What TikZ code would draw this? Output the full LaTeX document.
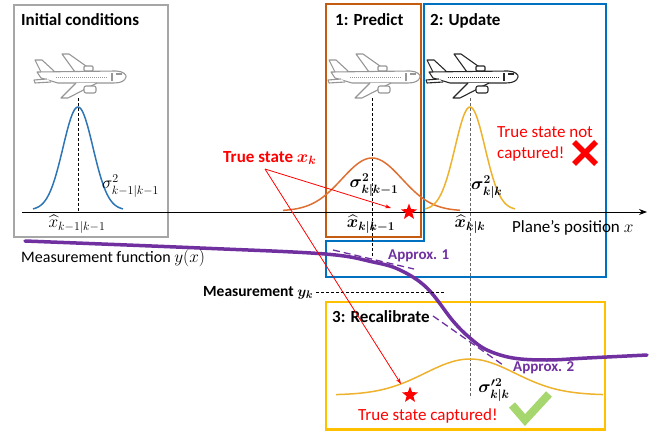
\documentclass[tikz,border=0pt]{standalone}
\usepackage{fontspec}
\setmainfont{Carlito}
\usepackage{amsmath,bm}
\usetikzlibrary{arrows.meta,shapes.geometric}
\definecolor{boxgray}{RGB}{166,166,166}
\definecolor{planegray}{RGB}{150,150,150}
\definecolor{planedark}{RGB}{40,40,40}
\definecolor{kblue}{RGB}{0,112,192}
\definecolor{cblue}{RGB}{46,117,182}
\definecolor{kbrown}{RGB}{197,90,17}
\definecolor{corange}{RGB}{222,112,50}
\definecolor{kyellow}{RGB}{255,192,0}
\definecolor{cyellow}{RGB}{238,178,45}
\definecolor{kpurple}{RGB}{112,48,160}
\definecolor{kgreen}{RGB}{165,215,110}
\definecolor{kred}{RGB}{255,0,0}
\tikzset{
  boxline/.style={line width=2.5pt},
  gcurve/.style={line width=1.5pt},
  title/.style={font=\fontsize{17}{20}\selectfont\bfseries, inner sep=0, anchor=base west},
  redtxt/.style={font=\fontsize{17}{20}\selectfont, text=kred, inner sep=0, anchor=base west},
  plaintxt/.style={font=\fontsize{16}{19}\selectfont, inner sep=0, anchor=base west},
  mathlbl/.style={font=\fontsize{17}{20}\selectfont, inner sep=0},
  purptxt/.style={font=\fontsize{15}{18}\selectfont\bfseries, text=kpurple, inner sep=0, anchor=base west},
  vdash/.style={line width=0.9pt, dash pattern=on 3pt off 2pt},
  redarrow/.style={kred, line width=0.8pt, -{Stealth[length=6pt,width=4pt]}},
  redstar/.style={star, star points=5, star point ratio=2.4, fill=kred, draw=none, minimum size=17pt, inner sep=0},
  plane/.pic={
    \begin{scope}[line width=1.1pt, line join=round]
    \draw[fill=white] (-37,-5) -- (-43,-17) -- (-36,-17) -- (-24,-6);
    \draw[fill=white] (-3,-5) -- (-16,-23) -- (-9,-23) -- (15,-6);
    \draw[fill=white, rounded corners=1pt] (6,-11) rectangle (15,-6);
    \draw[fill=white] (-41,-5) -- (38,-6) .. controls (45,-6) and (49,-2) .. (48,0)
       .. controls (47,4) and (43,6) .. (36,6) -- (-20,6) -- (-37,1) -- cycle;
    \draw[fill=white] (-31,2) -- (-44,3) -- (-43,6) -- (-27,5);
    \draw[fill=white] (-2,6) -- (-17,21) -- (-10,21) -- (19,6);
    \draw[fill=white, rounded corners=2pt] (6,9) rectangle (18,16);
    \draw[line width=0.8pt, dash pattern=on 1pt off 1pt] (-22,0) -- (30,0);
    \draw (38,-3) -- (44,-3);
    \draw (34,-4) -- (34,4);
    \end{scope}
  },
  declare function={g(\t,\c,\s)=exp(-0.5*((\t-\c)/\s)*((\t-\c)/\s));}
}
\begin{document}
\begin{tikzpicture}[x=1pt,y=-1pt]
\useasboundingbox (0,0) rectangle (654,431);

% boxes
\draw[boxline, boxgray] (14,5) rectangle (168,237);
\draw[boxline, kbrown] (326,4) rectangle (421,237);
\draw[boxline, kblue] (424,4) -- (606,4) -- (606,277) -- (326,277) -- (326,241) -- (424,241) -- cycle;
\draw[boxline, kyellow] (326,302) rectangle (605,429.5);

% titles
\node[title] (tinit) at (21,25) {Initial conditions};
\node[title] (tpred) at (335,25) {1: Predict};
\node[title] (tupd) at (430,25) {2: Update};
\node[title] (trec) at (332,322) {3: Recalibrate};

% planes
\pic[color=planegray] (pl1) at (78,77) {plane};
\pic[color=planegray] (pl2) at (372,77) {plane};
\pic[color=planedark] (pl3) at (470,77) {plane};

% axis
\coordinate (axL) at (22,212);
\coordinate (axR) at (647,212);
\draw[line width=0.9pt, -{Stealth[length=8pt,width=6pt]}] (axL) -- (axR);
\node[plaintxt, font=\fontsize{17}{20}\selectfont] (taxis) at (512,232) {Plane’s position $x$};

% dashed verticals
\coordinate (d1t) at (78,98);  \coordinate (d1b) at (78,212);
\coordinate (d2t) at (372,98); \coordinate (d2b) at (372,258);
\coordinate (d3t) at (470,98); \coordinate (d3b) at (470,398);
\draw[vdash] (d1t) -- (d1b);
\draw[vdash] (d2t) -- (d2b);
\draw[vdash, gray!80!black] (d3t) -- (d3b);

% gaussians
\draw[gcurve, cblue] plot[domain=33:123, samples=80, smooth] (\x, {210-103*g(\x,78,15)});
\draw[gcurve, corange] plot[domain=283:460, samples=80, smooth] (\x, {211-53*g(\x,372,30)});
\draw[gcurve, cyellow] plot[domain=425:515, samples=80, smooth] (\x, {210-103*g(\x,470,15)});
\draw[gcurve, cyellow] plot[domain=336:603, samples=100, smooth] (\x, {395-36*g(\x,470,45)});

% math labels
\node[mathlbl, anchor=west] (s1) at (102,186) {$\sigma^2_{k-1|k-1}$};
\node[mathlbl] (x1) at (77,224) {$\widehat{x}_{k-1|k-1}$};
\node[mathlbl] (s2) at (374,185) {$\bm{\sigma^2_{k|k-1}}$};
\node[mathlbl] (x2) at (371,224) {$\widehat{\bm{x}}_{\bm{k|k-1}}$};
\node[mathlbl, anchor=west] (s3) at (471,187) {$\bm{\sigma^2_{k|k}}$};
\node[mathlbl] (x3) at (470,224) {$\widehat{\bm{x}}_{\bm{k|k}}$};
\node[mathlbl] (s4) at (494,390) {$\bm{\sigma'^2_{k|k}}$};

% measurement function
\coordinate (a1s) at (333,250); \coordinate (a1e) at (414,269);
\coordinate (a2s) at (433,316); \coordinate (a2e) at (503,365);
\draw[kpurple, line width=1.3pt, dash pattern=on 7pt off 4pt] (a1s) -- (a1e);
\draw[kpurple, line width=1.3pt, dash pattern=on 7pt off 4pt] (a2s) -- (a2e);
\draw[kpurple, line width=3.5pt, line cap=round] plot[smooth, tension=0.6] coordinates {(25,241) (200,248) (325,254) (373,262) (400,270) (427,288) (453,321) (470,338) (487,350) (513,358) (547,360) (587,358) (647,355)};
\node[plaintxt] (tmf) at (21,262) {Measurement function $y(x)$};
\node[purptxt] (tap1) at (388,259) {Approx. 1};
\node[purptxt] (tap2) at (513,371) {Approx. 2};

% measurement
\node[plaintxt, font=\fontsize{15.5}{18}\selectfont\bfseries] (tmeas) at (203,296) {Measurement $\bm{y_k}$};
\coordinate (mE) at (445,292);
\draw[vdash] (tmeas.east |- mE) ++(3,0) coordinate (mS) -- (mE);

% true state
\node[redtxt, font=\fontsize{17}{20}\selectfont\bfseries] (tts) at (223,162) {True state $\bm{x_k}$};
\node[redstar] (st1) at (409,212) {};
\node[redstar] (st2) at (410,395) {};
\coordinate (tsA) at (265,169);
\coordinate (tsB) at (391,208);
\coordinate (tsC) at (401,384);
\draw[redarrow] (tsA) -- (tsB);
\draw[redarrow] (tsA) -- (tsC);

\node[redtxt] (tnc1) at (497,137) {True state not};
\node[redtxt] (tnc2) at (497,158) {captured!};
\node[redtxt] (tcap) at (358,420) {True state captured!};

% cross
\coordinate (xa) at (574,142); \coordinate (xb) at (596,164);
\coordinate (xc) at (596,142); \coordinate (xd) at (574,164);
\draw[kred, line width=5.5pt] (xa) -- (xb) (xc) -- (xd);

% check mark
\coordinate (ca) at (512,405); \coordinate (cb) at (525,420); \coordinate (cc) at (549,394);
\draw[kgreen, line width=8pt, line join=miter] (ca) -- (cb) -- (cc);
\end{tikzpicture}
\end{document}
